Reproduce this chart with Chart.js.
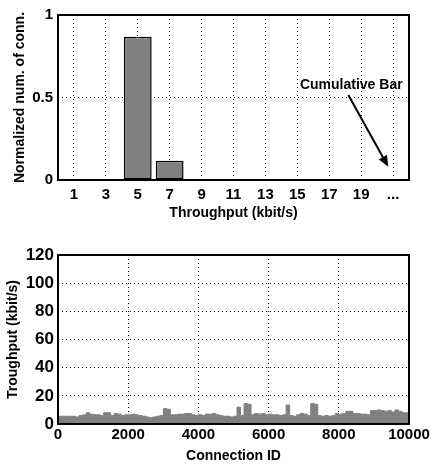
<!DOCTYPE html>
<html>
<head>
<meta charset="utf-8">
<script src="https://cdn.jsdelivr.net/npm/chart.js@4.4.0/dist/chart.umd.min.js"></script>
<style>
  html, body { margin: 0; padding: 0; background: #fff; }
  #wrap { position: relative; width: 433px; height: 465px; }
  .box { position: absolute; left: 0; width: 433px; }
</style>
</head>
<body>
<div id="wrap">
  <div class="box" style="top:0;height:222px"><canvas id="histChart"></canvas></div>
  <div class="box" style="top:240px;height:225px"><canvas id="connChart"></canvas></div>
</div>
<script>
// Histogram of throughput bins (top plot)
const binLabels = ["1", "3", "5", "7", "9", "11", "13", "15", "17", "19", "..."];
const binShare = [0.0, 0.001, 0.868, 0.117, 0.004, 0.006, 0.002, 0.001, 0.001, 0.001, 0.001];
const histTicks = [0, 0.5, 1];

// "Cumulative Bar" note, in data units (category index, value)
const noteText = "Cumulative Bar";
const noteAt = [10.3, 0.575];
const arrowFrom = [8.6, 0.515];
const arrowTo = [9.85, 0.08];

// Throughput per connection (bottom plot), one value per 100 connection IDs
const binWidth = 100;
const throughput = [
  6, 5.5, 5.5, 5.5, 5.5, 5.5, 5, 6, 6.5, 8,
  7, 6.5, 6.5, 6, 8, 8, 6, 7.5, 7, 6,
  6.5, 6.5, 7, 6.5, 6, 5.5, 5, 4.5, 5, 5.5,
  6, 11, 10.5, 6.5, 6.5, 7, 7, 7.5, 7.5, 6.5,
  6, 6.5, 6, 7, 7, 7.5, 6.5, 6, 5.5, 5.5,
  5, 5.5, 12, 6, 14.5, 14, 6.5, 7.5, 7, 7.5,
  6.5, 7, 6.5, 6.5, 6, 6.5, 13.5, 6, 5.5, 6.5,
  7.5, 7, 6, 14.5, 14, 6, 5.5, 6, 5.5, 6,
  7.5, 7, 7.5, 9, 9, 7.5, 7.5, 7, 7, 6.5,
  9.5, 9.5, 10, 9.5, 9, 9.5, 8.5, 10, 9, 8
];

Chart.defaults.color = '#000';
Chart.defaults.font.family = '"Liberation Sans", Arial, sans-serif';
Chart.defaults.font.weight = 'bold';
Chart.defaults.font.size = 14;

const dotted = { color: '#000', lineWidth: 1, tickLength: 0, drawTicks: false };
const noBorder = { display: false, dash: [1, 3] };
const tickFont = { size: 15, weight: 'bold' };

// Black frame round the plot area, like the original figure
const framePlugin = {
  id: 'frame',
  afterDraw(chart) {
    const a = chart.chartArea;
    const ctx = chart.ctx;
    ctx.save();
    ctx.strokeStyle = '#000';
    ctx.lineWidth = 2;
    ctx.strokeRect(a.left, a.top, a.right - a.left, a.bottom - a.top);
    ctx.restore();
  }
};

// Text label with an arrow pointing at the last bar
const notePlugin = {
  id: 'note',
  afterDraw(chart) {
    const x = chart.scales.x, y = chart.scales.y;
    const ctx = chart.ctx;
    ctx.save();
    ctx.fillStyle = '#000';
    ctx.strokeStyle = '#000';
    ctx.font = 'bold 14px "Liberation Sans", Arial, sans-serif';
    ctx.textAlign = 'right';
    ctx.textBaseline = 'middle';
    ctx.fillText(noteText, x.getPixelForValue(noteAt[0]), y.getPixelForValue(noteAt[1]));

    const x0 = x.getPixelForValue(arrowFrom[0]), y0 = y.getPixelForValue(arrowFrom[1]);
    const x1 = x.getPixelForValue(arrowTo[0]), y1 = y.getPixelForValue(arrowTo[1]);
    const ang = Math.atan2(y1 - y0, x1 - x0);
    const head = 12;
    ctx.lineWidth = 2;
    ctx.beginPath();
    ctx.moveTo(x0, y0);
    ctx.lineTo(x1 - head * 0.8 * Math.cos(ang), y1 - head * 0.8 * Math.sin(ang));
    ctx.stroke();
    ctx.beginPath();
    ctx.moveTo(x1, y1);
    ctx.lineTo(x1 - head * Math.cos(ang - 0.4), y1 - head * Math.sin(ang - 0.4));
    ctx.lineTo(x1 - head * Math.cos(ang + 0.4), y1 - head * Math.sin(ang + 0.4));
    ctx.closePath();
    ctx.fill();
    ctx.restore();
  }
};

new Chart(document.getElementById('histChart'), {
  type: 'bar',
  data: {
    labels: binLabels,
    datasets: [{
      data: binShare,
      backgroundColor: '#808080',
      borderColor: '#000',
      borderWidth: 1.5,
      borderSkipped: false,
      barPercentage: 0.87,
      categoryPercentage: 1
    }]
  },
  options: {
    responsive: true,
    maintainAspectRatio: false,
    animation: false,
    events: [],
    layout: { padding: { top: 15, right: 24, left: 0, bottom: 0 } },
    plugins: { legend: { display: false }, tooltip: { enabled: false } },
    scales: {
      x: {
        grid: Object.assign({ offset: false }, dotted),
        border: noBorder,
        ticks: { padding: 6, maxRotation: 0, autoSkip: false, font: tickFont },
        title: { display: true, text: 'Throughput (kbit/s)', padding: { top: 0, bottom: 0 } },
        afterFit(s) { s.height = 42; }
      },
      y: {
        min: 0,
        max: 1,
        afterBuildTicks(s) { s.ticks = histTicks.map(v => ({ value: v })); },
        grid: dotted,
        border: noBorder,
        ticks: { padding: 5, font: tickFont, callback: v => String(v) },
        title: { display: true, text: 'Normalized num. of conn.', padding: { top: 12, bottom: 0 } },
        afterFit(s) { s.width = 58; }
      }
    }
  },
  plugins: [framePlugin, notePlugin]
});

const points = throughput.map((v, i) => ({ x: i * binWidth, y: v }));
points.push({ x: throughput.length * binWidth, y: throughput[throughput.length - 1] });

new Chart(document.getElementById('connChart'), {
  type: 'line',
  data: {
    datasets: [{
      data: points,
      stepped: 'after',
      fill: 'origin',
      backgroundColor: '#808080',
      borderColor: '#808080',
      borderWidth: 1,
      pointRadius: 0
    }]
  },
  options: {
    responsive: true,
    maintainAspectRatio: false,
    animation: false,
    events: [],
    layout: { padding: { top: 15, right: 24, left: 0, bottom: 0 } },
    plugins: { legend: { display: false }, tooltip: { enabled: false } },
    scales: {
      x: {
        type: 'linear',
        min: 0,
        max: 10000,
        ticks: { stepSize: 2000, padding: 2, maxRotation: 0, font: tickFont, callback: v => String(v) },
        grid: dotted,
        border: noBorder,
        title: { display: true, text: 'Connection ID', padding: { top: 0, bottom: 0 } },
        afterFit(s) { s.height = 41; }
      },
      y: {
        min: 0,
        max: 120,
        ticks: { stepSize: 20, padding: 4, font: { size: 17, weight: 'bold' }, callback: v => String(v) },
        grid: dotted,
        border: noBorder,
        title: { display: true, text: 'Troughput (kbit/s)', padding: { top: 5, bottom: 0 } },
        afterFit(s) { s.width = 58; }
      }
    }
  },
  plugins: [framePlugin]
});
</script>
</body>
</html>
